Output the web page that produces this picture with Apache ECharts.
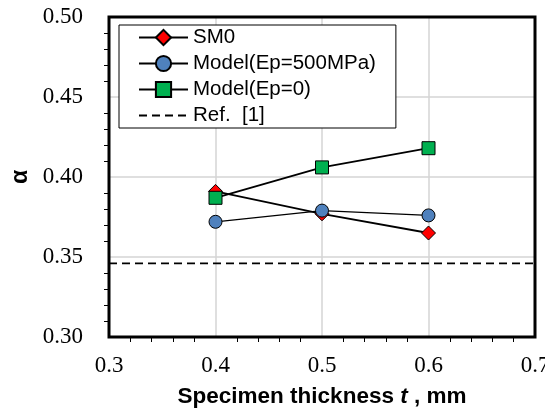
<!DOCTYPE html>
<html>
<head>
<meta charset="utf-8">
<script src="https://cdn.jsdelivr.net/npm/echarts@6/dist/echarts.min.js"></script>
<style>
  html, body { margin: 0; padding: 0; background: #fff; }
  #chart { width: 545px; height: 410px; }
</style>
</head>
<body>
<div id="chart"></div>
<script>
// Specimen thickness (mm) and the measured / modelled alpha values
const thickness = [0.4, 0.5, 0.6];
const sm0 = [0.391, 0.377, 0.365];
const modelEp500 = [0.372, 0.379, 0.376];
const modelEp0 = [0.387, 0.406, 0.418];
const refRange = [0.3, 0.7];
const refValue = 0.346;

const seriesNames = ['SM0', 'Model(Ep=500MPa)', 'Model(Ep=0)', 'Ref.  [1]'];

const pairs = (ys) => thickness.map((t, i) => [t, ys[i]]);

const chart = echarts.init(document.getElementById('chart'), null, { renderer: 'canvas' });

chart.setOption({
  animation: false,
  backgroundColor: '#fff',
  grid: {
    left: 109, right: 10, top: 17, bottom: 73,
    outerBoundsMode: 'none', containLabel: false,
    show: true, borderColor: '#000', borderWidth: 3, backgroundColor: 'transparent', z: 10
  },
  legend: {
    orient: 'vertical',
    left: 119, top: 25,
    data: [
      seriesNames[0], seriesNames[1], seriesNames[2],
      { name: seriesNames[3], itemStyle: { opacity: 0 } }
    ],
    itemWidth: 49, itemHeight: 19, itemGap: 5,
    padding: [2, 20, 2, 19],
    backgroundColor: '#fff',
    borderColor: '#000', borderWidth: 1,
    textStyle: { fontFamily: 'Liberation Sans', fontSize: 20.5, color: '#000' }
  },
  xAxis: {
    type: 'value', min: 0.3, max: 0.7, interval: 0.1,
    name: 'Specimen thickness {i|t} , mm',
    nameLocation: 'middle', nameGap: 48,
    nameTextStyle: {
      fontFamily: 'Liberation Sans', fontWeight: 'bold', fontSize: 22.5, color: '#000',
      rich: { i: { fontFamily: 'Liberation Sans', fontWeight: 'bold', fontStyle: 'italic', fontSize: 22.5, color: '#000' } }
    },
    axisLine: { show: false },
    axisTick: { show: false },
    minorTick: { show: true, splitNumber: 5, length: 5, lineStyle: { color: '#000', width: 1 } },
    axisLabel: {
      fontFamily: 'Liberation Serif', fontSize: 23, color: '#000', margin: 17,
      formatter: (v) => v.toFixed(1)
    },
    splitLine: { show: true, lineStyle: { color: '#d4d4d4', width: 1.5 } }
  },
  yAxis: {
    type: 'value', min: 0.3, max: 0.5, interval: 0.05,
    name: 'α',
    nameLocation: 'middle', nameGap: 76, nameRotate: 90,
    nameTextStyle: { fontFamily: 'Liberation Sans', fontWeight: 'bold', fontSize: 23, color: '#000' },
    axisLine: { show: false },
    axisTick: { show: false },
    minorTick: { show: true, splitNumber: 5, length: 5, lineStyle: { color: '#000', width: 1 } },
    axisLabel: {
      fontFamily: 'Liberation Serif', fontSize: 23, color: '#000', margin: 26,
      formatter: (v) => v.toFixed(2)
    },
    splitLine: { show: true, lineStyle: { color: '#d4d4d4', width: 1.5 } }
  },
  series: [
    {
      name: seriesNames[3], type: 'line', data: refRange.map((x) => [x, refValue]),
      symbol: 'none', itemStyle: { color: '#000' },
      lineStyle: { color: '#000', width: 1.8, type: [8, 5] }, z: 2
    },
    {
      name: seriesNames[0], type: 'line', data: pairs(sm0),
      symbol: 'diamond', symbolSize: 14,
      lineStyle: { color: '#000', width: 1.8 },
      itemStyle: { color: '#ff0000', borderColor: '#000', borderWidth: 1 }, z: 3
    },
    {
      name: seriesNames[1], type: 'line', data: pairs(modelEp500),
      symbol: 'circle', symbolSize: 13,
      lineStyle: { color: '#000', width: 1.3 },
      itemStyle: { color: '#4f81bd', borderColor: '#000', borderWidth: 1 }, z: 4
    },
    {
      name: seriesNames[2], type: 'line', data: pairs(modelEp0),
      symbol: 'rect', symbolSize: 13,
      lineStyle: { color: '#000', width: 1.8 },
      itemStyle: { color: '#00b050', borderColor: '#000', borderWidth: 1 }, z: 5
    }
  ]
});
</script>
</body>
</html>
